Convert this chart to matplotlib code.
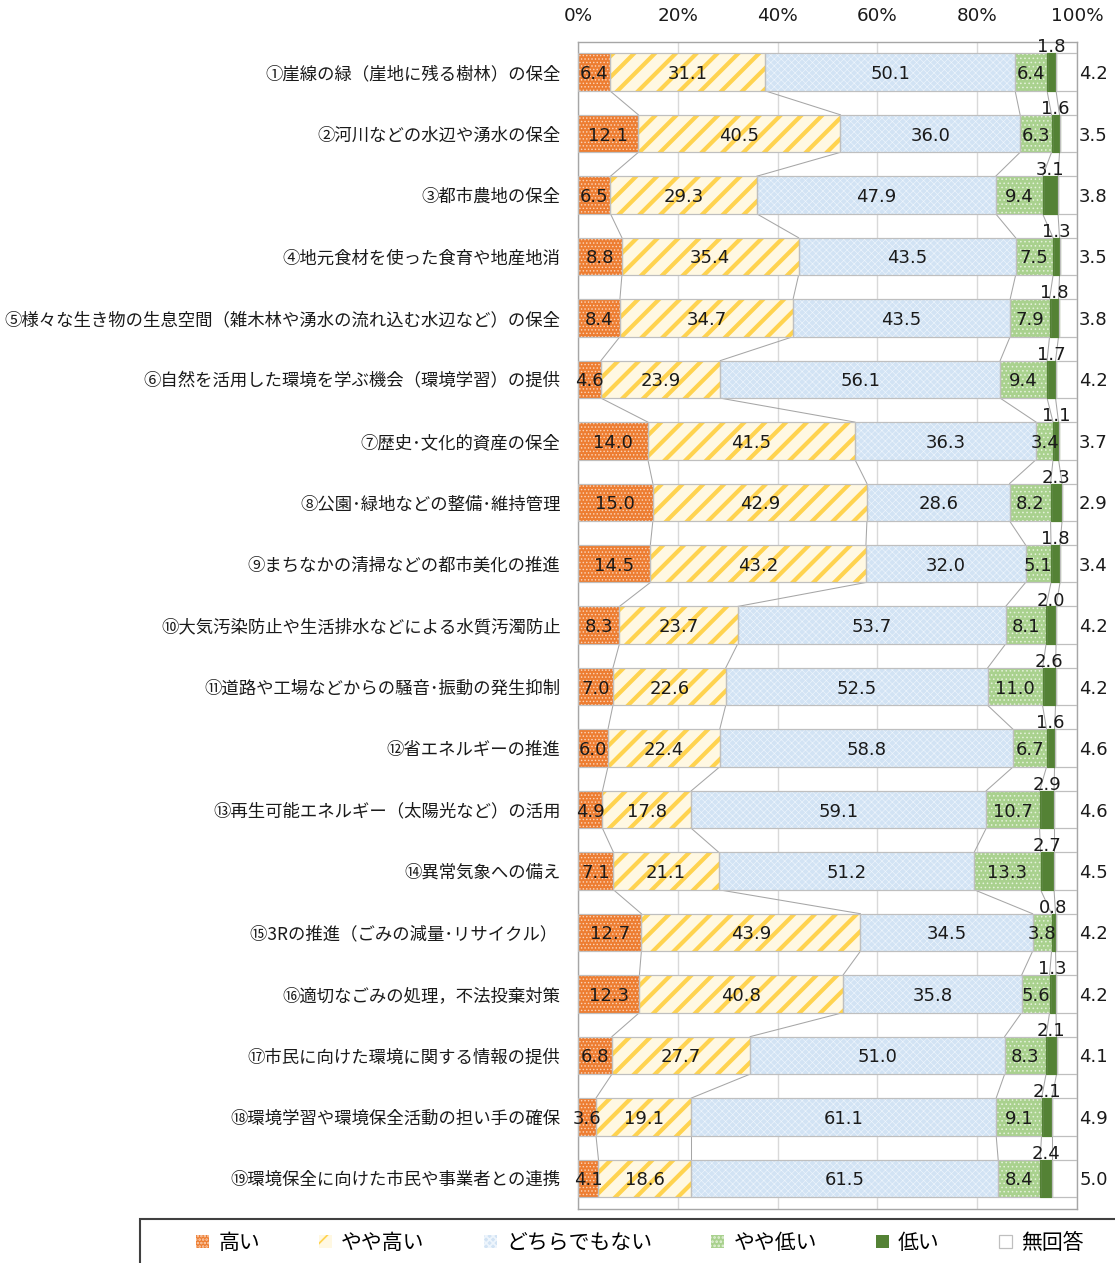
import matplotlib
matplotlib.use('Agg')
import matplotlib.pyplot as plt
from matplotlib.patches import Rectangle, Patch
import numpy as np

plt.rcParams['font.family'] = ['Noto Sans CJK JP', 'DejaVu Sans']

items = [
    '①崖線の緑（崖地に残る樹林）の保全',
    '②河川などの水辺や湧水の保全',
    '③都市農地の保全',
    '④地元食材を使った食育や地産地消',
    '⑤様々な生き物の生息空間（雑木林や湧水の流れ込む水辺など）の保全',
    '⑥自然を活用した環境を学ぶ機会（環境学習）の提供',
    '⑦歴史･文化的資産の保全',
    '⑧公園･緑地などの整備･維持管理',
    '⑨まちなかの清掃などの都市美化の推進',
    '⑩大気汚染防止や生活排水などによる水質汚濁防止',
    '⑪道路や工場などからの騒音･振動の発生抑制',
    '⑫省エネルギーの推進',
    '⑬再生可能エネルギー（太陽光など）の活用',
    '⑭異常気象への備え',
    '⑮3Rの推進（ごみの減量･リサイクル） ',
    '⑯適切なごみの処理，不法投棄対策',
    '⑰市民に向けた環境に関する情報の提供',
    '⑱環境学習や環境保全活動の担い手の確保',
    '⑲環境保全に向けた市民や事業者との連携',
]
high        = [6.4, 12.1, 6.5, 8.8, 8.4, 4.6, 14.0, 15.0, 14.5, 8.3, 7.0, 6.0, 4.9, 7.1, 12.7, 12.3, 6.8, 3.6, 4.1]
rather_high = [31.1, 40.5, 29.3, 35.4, 34.7, 23.9, 41.5, 42.9, 43.2, 23.7, 22.6, 22.4, 17.8, 21.1, 43.9, 40.8, 27.7, 19.1, 18.6]
neutral     = [50.1, 36.0, 47.9, 43.5, 43.5, 56.1, 36.3, 28.6, 32.0, 53.7, 52.5, 58.8, 59.1, 51.2, 34.5, 35.8, 51.0, 61.1, 61.5]
rather_low  = [6.4, 6.3, 9.4, 7.5, 7.9, 9.4, 3.4, 8.2, 5.1, 8.1, 11.0, 6.7, 10.7, 13.3, 3.8, 5.6, 8.3, 9.1, 8.4]
low         = [1.8, 1.6, 3.1, 1.3, 1.8, 1.7, 1.1, 2.3, 1.8, 2.0, 2.6, 1.6, 2.9, 2.7, 0.8, 1.3, 2.1, 2.1, 2.4]
no_answer   = [4.2, 3.5, 3.8, 3.5, 3.8, 4.2, 3.7, 2.9, 3.4, 4.2, 4.2, 4.6, 4.6, 4.5, 4.2, 4.2, 4.1, 4.9, 5.0]
series_names = ['高い', 'やや高い', 'どちらでもない', 'やや低い', '低い', '無回答']
ticks = [0, 20, 40, 60, 80, 100]

series = [high, rather_high, neutral, rather_low, low, no_answer]
# face colour, hatch, hatch colour, hatch line width
styles = [
    ('#ED7D31', '......', '#FBD3B8', 0.5),
    ('#FFF8E2', '//', '#FFD34F', 2.4),
    ('#D2E3F4', 'xxxxxx', '#EEF5FC', 0.35),
    ('#A9D18E', '.....', '#E4F1DA', 0.5),
    ('#548235', None, '#548235', 0.0),
    ('white', None, 'white', 0.0),
]

DPI = 125
W, H = 1115, 1263
fig = plt.figure(figsize=(W / DPI, H / DPI), dpi=DPI)
ax = fig.add_axes([578 / W, 1 - 1209 / H, (1077 - 578) / W, (1209 - 42) / H])

y = np.arange(len(items))
bh = 0.61
num_font = dict(family='DejaVu Sans', fontsize=10.4, color='#1a1a1a')

left = np.zeros(len(items))
bounds = []
for k, vals in enumerate(series):
    vals = np.array(vals)
    face, hatch, hc, hlw = styles[k]
    with plt.rc_context({'hatch.linewidth': max(hlw, 0.1)}):
        bars = ax.barh(y, vals, left=left, height=bh, color=face, edgecolor=hc,
                       hatch=hatch, linewidth=0, zorder=2)
        for b in bars:
            if hasattr(b, 'set_hatch_linewidth'):
                b.set_hatch_linewidth(max(hlw, 0.1))
    ax.barh(y, vals, left=left, height=bh, fill=False,
            edgecolor='#BFBFBF' if k != 4 else '#548235', linewidth=0.7, zorder=3)
    for i, v in enumerate(vals):
        if k < 4:
            ax.text(left[i] + v / 2, i, f'{v:.1f}', ha='center', va='center_baseline',
                    zorder=5, **num_font)
        elif k == 4:
            ax.text(left[i] + v / 2, i - bh / 2 - 0.015, f'{v:.1f}', ha='center',
                    va='baseline', zorder=5, **num_font)
        else:
            ax.text(103.3, i, f'{v:.1f}', ha='center', va='center_baseline',
                    clip_on=False, **num_font)
    left = left + vals
    if k < 5:
        bounds.append(left.copy())

# connector lines between neighbouring bars
for cum in bounds:
    for i in range(len(items) - 1):
        ax.plot([cum[i], cum[i + 1]], [i + bh / 2, i + 1 - bh / 2],
                color='#A6A6A6', lw=0.6, zorder=1.5)

ax.set_xlim(0, 100)
ax.set_ylim(18.5, -0.49)
ax.xaxis.tick_top()
ax.set_xticks(ticks)
ax.set_xticklabels([f'{t}%' for t in ticks], family='DejaVu Sans', fontsize=10.6,
                   color='#1a1a1a')
ax.set_yticks(y)
ax.set_yticklabels(items, fontsize=10, color='#1a1a1a')
ax.tick_params(axis='x', length=0, pad=10)
ax.tick_params(axis='y', length=0, pad=10)
ax.grid(axis='x', color='#D9D9D9', lw=0.8, zorder=0)
ax.set_axisbelow(True)
for s in ax.spines.values():
    s.set_color('#A6A6A6')
    s.set_linewidth(0.8)

# legend
handles = []
for k, (face, hatch, hc, hlw) in enumerate(styles):
    with plt.rc_context({'hatch.linewidth': max(hlw, 0.1)}):
        if k == 5:
            p = Patch(facecolor='white', edgecolor='#BFBFBF', linewidth=0.7)
        else:
            p = Patch(facecolor=face, edgecolor=hc, hatch=hatch, linewidth=0)
    handles.append(p)
fig.legend(handles, series_names, loc='center', bbox_to_anchor=(640 / W, 1 - 1243 / H),
           ncol=6, frameon=False, fontsize=12, handlelength=0.6, handleheight=0.6,
           handletextpad=0.45, columnspacing=2.85, borderaxespad=0, borderpad=0)
fig.add_artist(Rectangle((140 / W, -0.05), 1.0, 0.05 + (H - 1219) / H,
                         transform=fig.transFigure, fill=False,
                         edgecolor='#404040', linewidth=1.2))

fig.savefig('out.png', dpi=DPI)
